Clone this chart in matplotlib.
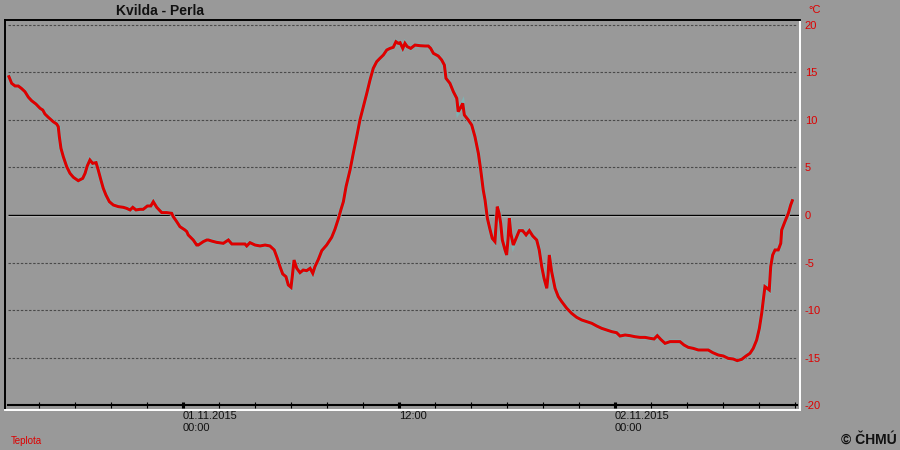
import matplotlib
matplotlib.use("Agg")
import matplotlib.pyplot as plt
import matplotlib.transforms as mtransforms

plt.rcParams['axes.unicode_minus'] = False
plt.rcParams['font.family'] = ['Liberation Sans', 'DejaVu Sans']

# ---- data: hours relative to 01.11.2015 00:00, temperature in degC ----
hours = [
    -9.67, -9.52, -9.33, -9.15, -8.96, -8.78, -8.59, -8.41, -8.17, -7.94,
    -7.79, -7.67, -7.48, -7.21, -7.02, -6.93, -6.87, -6.78, -6.65, -6.46,
    -6.28, -6.09, -5.82, -5.57, -5.44, -5.32, -5.17, -5.02, -4.83, -4.71,
    -4.56, -4.43, -4.28, -4.09, -3.87, -3.59, -3.32, -3.13, -2.94, -2.79,
    -2.61, -2.39, -2.21, -1.98, -1.79, -1.65, -1.46, -1.18, -0.91, -0.63,
    -0.54, -0.35, -0.17, 0.11, 0.21, 0.29, 0.48, 0.57, 0.76, 0.85,
    1.04, 1.13, 1.32, 1.41, 1.59, 1.87, 2.24, 2.52, 2.71, 3.07,
    3.44, 3.54, 3.72, 4.00, 4.28, 4.56, 4.83, 5.07, 5.24, 5.39,
    5.54, 5.72, 5.85, 6.00, 6.07, 6.17, 6.32, 6.50, 6.68, 6.87,
    7.06, 7.21, 7.33, 7.52, 7.71, 7.98, 8.26, 8.44, 8.63, 8.78,
    8.91, 9.06, 9.28, 9.46, 9.65, 9.83, 10.02, 10.21, 10.39, 10.57,
    10.76, 10.94, 11.13, 11.32, 11.50, 11.68, 11.83, 11.96, 12.06, 12.21,
    12.33, 12.46, 12.65, 12.89, 13.17, 13.44, 13.63, 13.76, 13.91, 14.18,
    14.37, 14.52, 14.61, 14.83, 15.02, 15.21, 15.29, 15.43, 15.54, 15.63,
    15.85, 16.04, 16.22, 16.41, 16.54, 16.68, 16.78, 16.91, 17.04, 17.18,
    17.33, 17.41, 17.46, 17.56, 17.65, 17.74, 17.89, 17.98, 18.06, 18.13,
    18.21, 18.35, 18.50, 18.68, 18.87, 19.06, 19.24, 19.43, 19.65, 19.79,
    19.93, 20.06, 20.21, 20.28, 20.35, 20.48, 20.67, 20.85, 21.04, 21.32,
    21.59, 21.87, 22.15, 22.43, 22.71, 22.98, 23.26, 23.54, 23.82, 24.09,
    24.28, 24.56, 24.83, 25.11, 25.39, 25.67, 25.94, 26.17, 26.35, 26.54,
    26.78, 27.06, 27.33, 27.61, 27.83, 28.07, 28.35, 28.63, 28.91, 29.18,
    29.43, 29.74, 30.02, 30.29, 30.57, 30.79, 31.04, 31.28, 31.50, 31.68,
    31.87, 32.02, 32.15, 32.24, 32.33, 32.46, 32.57, 32.65, 32.76, 32.89,
    33.07, 33.21, 33.26, 33.44, 33.63, 33.76, 33.85,
]
temps = [
    14.56, 13.86, 13.58, 13.58, 13.30, 12.98, 12.40, 12.03, 11.68, 11.23,
    11.05, 10.63, 10.28, 9.82, 9.58, 9.30, 8.24, 7.02, 6.14, 5.08,
    4.39, 3.97, 3.61, 3.86, 4.39, 5.16, 5.79, 5.44, 5.51, 4.74,
    3.68, 2.81, 2.10, 1.40, 1.05, 0.88, 0.81, 0.70, 0.53, 0.81,
    0.53, 0.60, 0.60, 0.95, 0.95, 1.40, 0.81, 0.25, 0.25, 0.18,
    -0.18, -0.70, -1.23, -1.58, -1.75, -2.10, -2.46, -2.63, -3.16, -3.16,
    -2.91, -2.80, -2.63, -2.63, -2.74, -2.88, -2.98, -2.63, -3.05, -3.05,
    -3.05, -3.26, -2.91, -3.16, -3.26, -3.16, -3.26, -3.68, -4.56, -5.44,
    -6.21, -6.49, -7.37, -7.61, -6.49, -4.74, -5.61, -6.07, -5.79, -5.86,
    -5.61, -6.14, -5.44, -4.67, -3.75, -3.16, -2.35, -1.51, -0.40, 0.60,
    1.40, 3.00, 4.74, 6.49, 8.24, 10.00, 11.40, 12.81, 14.21, 15.44,
    16.14, 16.49, 16.84, 17.37, 17.54, 17.65, 18.24, 18.07, 18.14, 17.54,
    18.07, 17.72, 17.54, 17.89, 17.82, 17.79, 17.79, 17.54, 17.02, 16.74,
    16.32, 15.79, 14.39, 13.86, 12.98, 12.28, 10.88, 11.33, 11.75, 10.53,
    10.00, 9.47, 8.24, 6.49, 4.74, 2.63, 1.58, -0.35, -1.40, -2.46,
    -2.80, -0.53, 0.88, 0.18, -0.88, -2.63, -3.68, -4.21, -2.46, -0.35,
    -1.93, -3.16, -2.46, -1.65, -1.65, -2.10, -1.65, -2.21, -2.63, -3.68,
    -5.44, -6.67, -7.72, -6.32, -4.21, -5.96, -7.72, -8.60, -9.12, -9.82,
    -10.35, -10.77, -11.05, -11.23, -11.40, -11.68, -11.93, -12.10, -12.28, -12.39,
    -12.74, -12.63, -12.70, -12.81, -12.88, -12.88, -12.98, -13.05, -12.70, -13.09,
    -13.51, -13.33, -13.33, -13.33, -13.68, -13.93, -14.04, -14.21, -14.21, -14.21,
    -14.49, -14.74, -14.84, -15.09, -15.16, -15.33, -15.19, -14.84, -14.56, -14.04,
    -13.16, -11.93, -10.35, -8.95, -7.54, -7.72, -7.89, -5.44, -4.21, -3.68,
    -3.68, -2.98, -1.58, -0.70, 0.18, 1.05, 1.51,
]

major_ticks = [0, 12, 24]
major_labels = ["01.11.2015\n00:00", "12:00", "02.11.2015\n00:00"]
minor_ticks = [-8, -6, -4, -2, 2, 4, 6, 8, 10, 14, 16, 18, 20, 22, 26, 28, 30, 32, 34]
ytick_vals = [-20, -15, -10, -5, 0, 5, 10, 15, 20]
ytick_labels = ["-20", "-15", "-10", "-5", "0", "5", "10", "15", "20"]
grid_vals = [-15, -10, -5, 5, 10, 15, 20]

title = "Kvilda - Perla"
series_name = "Teplota"
unit = "°C"
credit = "© ČHMÚ"

BG = "#999999"
RED = "#dd0000"

fig = plt.figure(figsize=(9, 4.5), dpi=100, facecolor=BG)
ax = fig.add_axes([5 / 900, 40 / 450, 795 / 900, 390 / 450], facecolor=BG)
ax.set_xlim(-9.889, 34.278)
ax.set_ylim(-20.526, 20.526)

x0, x1 = -9.72, 34.11

# grid
ax.hlines(grid_vals, x0, x1, colors="#4a4a4a", linestyles=(0, (2.2, 1.5)), lw=0.8, zorder=1)
# zero line with light shadow
trans = mtransforms.offset_copy(ax.transData, fig=fig, y=-1.2, units='dots')
ax.hlines(0, x0, x1 + 0.1, colors="#dddddd", lw=0.9, transform=trans, zorder=1)
ax.hlines(0, x0, x1 + 0.1, colors="black", lw=1.0, zorder=1)

# data line with slight halo
ax.plot(hours, temps, color="#7fb3b3", lw=3.1, zorder=3, solid_joinstyle='miter')
ax.plot(hours, temps, color=RED, lw=2.2, zorder=4, solid_joinstyle='miter')

# x axis (at -20)
ax.spines['bottom'].set_position(('data', -20))
ax.spines['bottom'].set_bounds(x0, x1)
ax.spines['bottom'].set_color('black')
ax.spines['bottom'].set_linewidth(1.5)
ax.spines['left'].set_color('black')
ax.spines['left'].set_linewidth(1.4)
ax.spines['top'].set_color('black')
ax.spines['top'].set_linewidth(1.4)
ax.spines['right'].set_color('white')
ax.spines['right'].set_linewidth(1.4)
ax.plot([0, 1], [0, 0], transform=ax.transAxes, color='white', lw=1.4, clip_on=False, zorder=5)

ax.set_xticks(major_ticks)
ax.set_xticklabels(major_labels)
ax.set_xticks(minor_ticks, minor=True)
ax.tick_params(axis='x', which='both', direction='inout', length=4.3, color='black',
               labelsize=8, pad=2.5, labelcolor='#111111')
ax.tick_params(axis='x', which='major', width=2.2)
ax.tick_params(axis='x', which='minor', width=0.8)
for lbl in ax.get_xticklabels():
    lbl.set_horizontalalignment('left')
    lbl.set_verticalalignment('top')

ax.yaxis.tick_right()
ax.set_yticks(ytick_vals)
ax.set_yticklabels(ytick_labels)
ax.tick_params(axis='y', length=0, pad=3.5, labelsize=8, labelcolor=RED)

fig.text(160 / 900, 1 - 10.7 / 450, title, ha='center', va='center', fontsize=10,
         fontweight='bold', color='#111111')
fig.text(808 / 900, 1 - 10 / 450, unit, ha='left', va='center', fontsize=8, color=RED)
fig.text(11 / 900, 1 - 441 / 450, series_name, ha='left', va='center', fontsize=7, color=RED)
fig.text(897 / 900, 1 - 440 / 450, credit, ha='right', va='center', fontsize=10,
         fontweight='bold', color='#111111')

fig.savefig("out.png", dpi=100, facecolor=BG)
